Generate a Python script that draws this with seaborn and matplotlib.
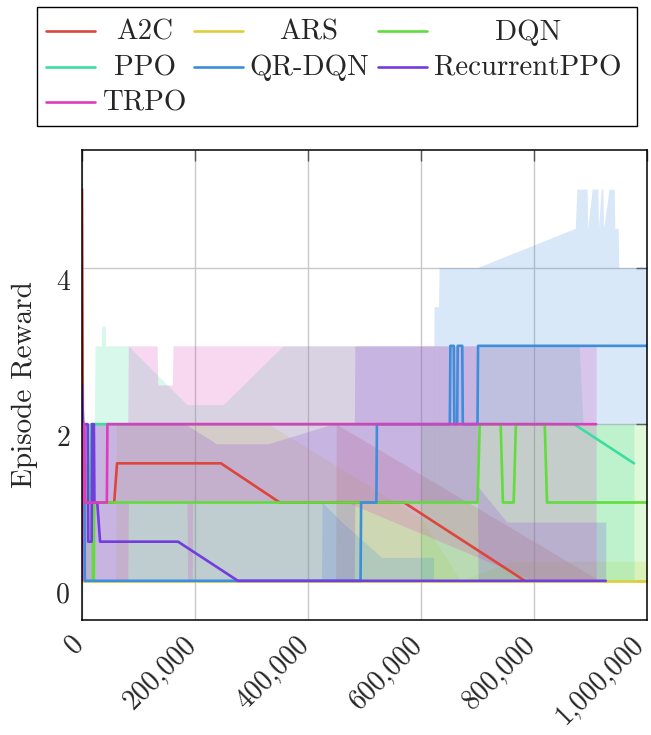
import matplotlib
matplotlib.use("Agg")
import matplotlib.pyplot as plt
import matplotlib.transforms as mtransforms
from matplotlib.lines import Line2D
from matplotlib.patches import Rectangle
from matplotlib.ticker import FuncFormatter
import pandas as pd
import seaborn as sns

# ---------------------------------------------------------------- data
ALGOS = ["A2C", "ARS", "DQN", "PPO", "QR-DQN", "RecurrentPPO", "TRPO"]

# mean episode reward per algorithm (timestep, reward)
A2C_X = [0, 2e3, 17e3, 18e3, 20e3, 57e3, 62e3, 246e3, 350e3, 570e3, 784e3]
A2C_Y = [5, 1, 1, 1.5, 1, 1, 1.5, 1.5, 1, 1, 0]
ARS_X = [0, 1e6]
ARS_Y = [0, 0]
DQN_X = [0, 10e3, 10.5e3, 11e3, 11.5e3, 19e3, 19.5e3, 21e3, 21.5e3,
         700e3, 704e3, 741e3, 745e3, 764e3, 768e3, 819e3, 823e3, 1e6]
DQN_Y = [1, 1, 1.5, 1.5, 1, 1, 0, 0, 1,
         1, 2, 2, 1, 1, 2, 2, 1, 1]
PPO_X = [0, 14e3, 16e3, 871e3, 977e3]
PPO_Y = [1, 1, 2, 2, 1.5]
QRDQN_X = [0, 4e3, 5e3, 493e3, 494e3, 521e3, 522e3, 651e3, 652e3, 658e3,
           659e3, 664e3, 665e3, 673e3, 674e3, 700e3, 701e3, 1e6]
QRDQN_Y = [2, 2, 0, 0, 1, 1, 2, 2, 3, 3, 2, 2, 3, 3, 2, 2, 3, 3]
RPPO_X = [0, 2e3, 10e3, 11e3, 17e3, 18e3, 21e3, 22e3, 27e3, 32e3,
          170e3, 276e3, 927e3]
RPPO_Y = [2.5, 2, 2, 0.5, 0.5, 2, 2, 1, 1, 0.5, 0.5, 0, 0]
TRPO_X = [0, 1e3, 4e3, 5e3, 44e3, 45e3, 910e3]
TRPO_Y = [0, 2, 2, 1, 1, 2, 2]

# min / max band per algorithm
A2C_BX = [0, 2e3, 3e3, 449e3, 450e3, 917e3]
A2C_LO = [1, 1, 0, 0, 0, 0]
A2C_HI = [5, 1, 0, 0, 2, 0]
ARS_BX = [0, 60e3, 61e3, 330e3, 443e3, 600e3, 670e3, 760e3, 1e6]
ARS_LO = [0, 0, 0, 0, 0, 0, 0, 0, 0]
ARS_HI = [0, 0, 2, 2, 1.5, 0.8, 0, 0.25, 0.25]
DQN_BX = [0, 20e3, 21e3, 599e3, 600e3, 1e6]
DQN_LO = [0, 0, 0, 0, 0, 0]
DQN_HI = [1.5, 1.5, 0, 0, 2, 2]
PPO_BX = [0, 22e3, 23e3, 34e3, 35e3, 41e3, 42e3, 82e3, 186e3, 250e3,
          356e3, 880e3, 887e3, 977e3]
PPO_LO = [0, 0, 0, 0, 0, 0, 0, 0, 0, 0, 0, 0, 0, 0]
PPO_HI = [2, 2, 3, 3, 3.25, 3.25, 3, 3, 2.25, 2.25, 3, 3, 2, 2]
QRDQN_BX = [0, 5e3, 6e3, 424e3, 425e3, 460e3, 530e3, 622e3, 623e3, 631e3,
            632e3, 699e3, 700e3, 873e3, 876e3, 894e3, 895e3, 903e3, 913e3,
            914e3, 919e3, 922e3, 923e3, 933e3, 942e3, 943e3, 949e3, 950e3,
            1e6]
QRDQN_LO = [0, 0, 0, 0, 0, 0, 0, 0, 3, 3,
            3, 3, 2, 2, 2, 2, 2, 2, 2,
            2, 2, 2, 2, 2, 2, 2, 2, 2,
            2]
QRDQN_HI = [2, 1, 0, 0, 1, 0.75, 0.3, 0.3, 3.5, 3.5,
            4, 4, 4, 4.5, 5, 5, 4.5, 5, 5,
            4.5, 5, 5, 4.5, 5, 5, 4.5, 4.5, 4,
            4]
RPPO_BX = [0, 2e3, 33e3, 183e3, 238e3, 330e3, 443e3, 482e3, 483e3, 700e3,
           701e3, 752e3, 927e3]
RPPO_LO = [0, 0, 0, 0, 0, 0, 0, 0, 1, 1, 0, 0, 0]
RPPO_HI = [2.5, 2, 2, 2, 1.75, 1.75, 2, 2, 3, 3, 1.2, 0.75, 0.75]
TRPO_BX = [0, 1e3, 81e3, 82e3, 133e3, 134e3, 160e3, 161e3, 186e3, 187e3,
           195e3, 196e3, 470e3, 800e3, 910e3]
TRPO_LO = [0, 0, 0, 1, 1, 1, 1, 1, 1, 0, 0, 1, 1, 0, 0]
TRPO_HI = [2, 2, 2, 3, 3, 2.5, 2.5, 3, 3, 3, 3, 3, 3, 3, 3]

LINES = {"A2C": (A2C_X, A2C_Y), "ARS": (ARS_X, ARS_Y), "DQN": (DQN_X, DQN_Y),
         "PPO": (PPO_X, PPO_Y), "QR-DQN": (QRDQN_X, QRDQN_Y),
         "RecurrentPPO": (RPPO_X, RPPO_Y), "TRPO": (TRPO_X, TRPO_Y)}
BANDS = {"A2C": (A2C_BX, A2C_LO, A2C_HI), "ARS": (ARS_BX, ARS_LO, ARS_HI),
         "DQN": (DQN_BX, DQN_LO, DQN_HI), "PPO": (PPO_BX, PPO_LO, PPO_HI),
         "QR-DQN": (QRDQN_BX, QRDQN_LO, QRDQN_HI),
         "RecurrentPPO": (RPPO_BX, RPPO_LO, RPPO_HI),
         "TRPO": (TRPO_BX, TRPO_LO, TRPO_HI)}

X_TICKS = [0, 200000, 400000, 600000, 800000, 1000000]
Y_TICKS = [0, 2, 4]

# ---------------------------------------------------------------- style
sns.set_theme(style="white")
plt.rcParams["font.family"] = ["cmr10"]
plt.rcParams["axes.unicode_minus"] = False
plt.rcParams["axes.formatter.use_mathtext"] = False

palette = dict(zip(ALGOS, sns.hls_palette(7, h=0.01, l=0.55, s=0.7)))

W, H = 651, 735
fig = plt.figure(figsize=(W / 100, H / 100), dpi=100)
ax = fig.add_axes([82 / W, 1 - 620 / H, 565 / W, 470 / H])

# shaded ranges first, mean curves on top
for name in ALGOS:
    bx, lo, hi = BANDS[name]
    ax.fill_between(bx, lo, hi, color=palette[name], alpha=0.2, linewidth=0)

long_df = pd.concat(
    [pd.DataFrame({"step": LINES[n][0], "reward": LINES[n][1], "algo": n})
     for n in ALGOS],
    ignore_index=True)
for name in ALGOS:
    sub = long_df[long_df["algo"] == name]
    sns.lineplot(data=sub, x="step", y="reward", ax=ax, color=palette[name],
                 lw=1.9, sort=False, estimator=None, legend=False)

ax.set_xlim(0, 1e6)
ax.set_ylim(-0.5, 5.5)
ax.set_xticks(X_TICKS)
ax.set_yticks(Y_TICKS)
ax.xaxis.set_major_formatter(FuncFormatter(lambda v, p: f"{int(round(v)):,}"))
ax.yaxis.set_major_formatter(FuncFormatter(lambda v, p: f"{int(round(v))}"))
ax.grid(True, color="#c8c8c8", lw=1.0)
ax.set_xlabel("")
ax.set_ylabel("Episode Reward", fontsize=21)
ax.yaxis.set_label_coords(-0.078, 0.5)
for s in ax.spines.values():
    s.set_color("black")
    s.set_linewidth(1.1)
ax.tick_params(axis="both", direction="in", length=8, width=1.0,
               color="#555555", labelsize=20, top=True, right=True)
ax.tick_params(axis="y", pad=8.5)
ax.tick_params(axis="x", pad=14.5)
xlabels = ax.get_xticklabels()
for k, lab in enumerate(xlabels):
    dx = -3 if k < len(xlabels) - 1 else -8
    lab.set_rotation(45)
    lab.set_ha("right")
    lab.set_va("center")
    lab.set_rotation_mode("anchor")
    lab.set_transform(lab.get_transform() +
                      mtransforms.ScaledTranslation(dx / 100, 0,
                                                    fig.dpi_scale_trans))
yshift = mtransforms.ScaledTranslation(0, -12 / 100, fig.dpi_scale_trans)
for lab in ax.get_yticklabels():
    lab.set_transform(lab.get_transform() + yshift)

# legend box above the axes, three columns with centred labels
def fx(px):
    return px / W

def fy(py):
    return 1 - py / H

fig.add_artist(Rectangle((fx(37), fy(126)), (637 - 37) / W, (126 - 7) / H,
                         transform=fig.transFigure, fill=False,
                         edgecolor="black", lw=1.0))
handle_x = [46, 194, 378]
text_cx = [145, 309, 528]
line_y = [31, 66.5, 102]
base_y = [40, 75, 110.5]
for i, name in enumerate(ALGOS):
    r, c = divmod(i, 3)
    fig.add_artist(Line2D([fx(handle_x[c]), fx(handle_x[c] + 49)],
                          [fy(line_y[r]), fy(line_y[r])],
                          transform=fig.transFigure, color=palette[name], lw=1.9))
    fig.text(fx(text_cx[c]), fy(base_y[r]), name, ha="center", va="baseline",
             fontsize=20.8)

fig.savefig("out.png", dpi=100)
